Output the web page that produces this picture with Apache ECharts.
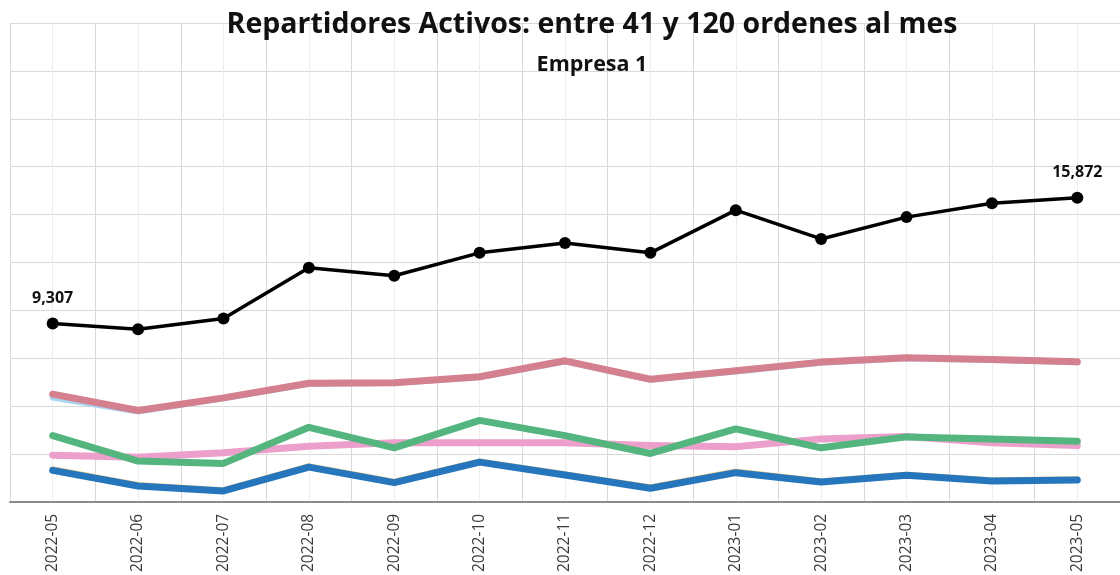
<!DOCTYPE html>
<html>
<head>
<meta charset="utf-8">
<script src="https://cdn.jsdelivr.net/npm/echarts@6/dist/echarts.min.js"></script>
<style>
  html, body { margin: 0; padding: 0; background: #fff; }
  #chart { width: 1120px; height: 575px; }
</style>
</head>
<body>
<div id="chart"></div>
<script>
// months on the x axis
const months = ['2022-05', '2022-06', '2022-07', '2022-08', '2022-09', '2022-10', '2022-11',
                '2022-12', '2023-01', '2023-02', '2023-03', '2023-04', '2023-05'];

// total (black line with markers)
const total = [9307, 9006, 9577, 12221, 11806, 12999, 13517, 12999, 15228, 13725, 14865, 15591, 15872];
// other series
const rosa = [5621, 4770, 5429, 6191, 6222, 6533, 7363, 6398, 6844, 7295, 7518, 7435, 7311];
const celeste = [5450, 4720, 5400, 6160, 6200, 6500, 7330, 6370, 6810, 7260, 7490, 7410, 7290];
const verde = [3458, 2126, 2007, 3889, 2821, 4252, 3458, 2525, 3806, 2821, 3391, 3287, 3163];
const rosaClaro = [2437, 2333, 2561, 2904, 3080, 3080, 3080, 2940, 2872, 3287, 3407, 3080, 2940];
const azul = [1644, 830, 570, 1815, 1006, 2074, 1400, 710, 1524, 1037, 1384, 1089, 1141];
const naranja = [1700, 880, 610, 1860, 1050, 2110, 1440, 760, 1580, 1080, 1420, 1130, 1180];

const chart = echarts.init(document.getElementById('chart'));

const colorLine = (name, data, color, width) => ({
  name: name,
  type: 'line',
  xAxisIndex: 0,
  data: data,
  symbol: 'none',
  smooth: false,
  lineStyle: { color: color, width: width, cap: 'round', join: 'round' },
  itemStyle: { color: color }
});

chart.setOption({
  animation: false,
  backgroundColor: '#ffffff',
  title: {
    text: 'Repartidores Activos: entre 41 y 120 ordenes al mes',
    subtext: 'Empresa 1',
    left: 587,
    textAlign: 'center',
    top: 5,
    itemGap: 15,
    textStyle: { fontFamily: 'Open Sans', fontWeight: 'bold', fontSize: 28.5, color: '#111' },
    subtextStyle: { fontFamily: 'Open Sans', fontWeight: 'bold', fontSize: 21.5, color: '#111' }
  },
  grid: { left: 10, top: 23, width: 1118, height: 480 },
  xAxis: [
    {
      type: 'category',
      data: months,
      boundaryGap: true,
      axisLine: { show: true, lineStyle: { color: '#8c8c8c', width: 2 } },
      axisTick: { show: false },
      splitLine: { show: true, lineStyle: { color: '#d9d9d9', width: 1 } },
      axisLabel: {
        rotate: 90,
        margin: 12,
        fontFamily: 'Open Sans',
        fontSize: 15.5,
        color: '#3a3a3a'
      }
    },
    {
      // lighter lines through each month
      type: 'value',
      min: -1,
      max: 25,
      interval: 1,
      position: 'bottom',
      axisLine: { show: false },
      axisTick: { show: false },
      axisLabel: { show: false },
      splitLine: { show: true, lineStyle: { color: ['rgba(0,0,0,0)', '#ededed'], width: 1 } }
    }
  ],
  yAxis: {
    type: 'value',
    min: 0,
    max: 25000,
    interval: 2500,
    axisLine: { show: false },
    axisTick: { show: false },
    axisLabel: { show: false },
    splitLine: { show: true, lineStyle: { color: '#d9d9d9', width: 1 } }
  },
  series: [
    colorLine('celeste', celeste, '#a9d4f0', 6),
    colorLine('naranja', naranja, '#f5d08a', 6),
    colorLine('rosa', rosa, '#d4808f', 7),
    colorLine('rosa claro', rosaClaro, '#ec9fcb', 7),
    colorLine('verde', verde, '#55b57f', 7),
    colorLine('azul', azul, '#2676bd', 7),
    {
      name: 'total',
      type: 'line',
      xAxisIndex: 0,
      data: total,
      symbol: 'circle',
      symbolSize: 12,
      lineStyle: { color: '#000', width: 3.5 },
      itemStyle: { color: '#000' },
      label: {
        show: true,
        position: 'top',
        distance: 11,
        fontFamily: 'Open Sans',
        fontWeight: 'bold',
        fontSize: 16,
        color: '#111',
        formatter: p => (p.dataIndex === 0 || p.dataIndex === total.length - 1)
          ? p.value.toLocaleString('en-US') : ''
      }
    }
  ]
});
</script>
</body>
</html>
